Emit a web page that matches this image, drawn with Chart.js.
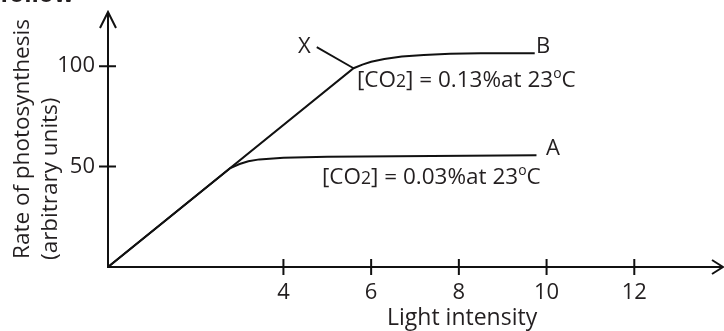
<!DOCTYPE html>
<html>
<head>
<meta charset="utf-8">
<script src="https://cdn.jsdelivr.net/npm/chart.js@4.4.1/dist/chart.umd.min.js"></script>
<style>
  html, body { margin: 0; padding: 0; background: #fff; }
  #wrap { width: 724px; height: 331px; }
</style>
</head>
<body>
<div id="wrap"><canvas id="c" width="724" height="331"></canvas></div>
<script>
// ---- data ----
const xTickValues = [4, 6, 8, 10, 12];
const yTickValues = [50, 100];

// curve B: [CO2] = 0.13% at 23 C
const lightB = [0, 5.6, 5.8, 6.0, 6.3, 6.7, 7.2, 7.8, 8.5, 9.73];
const rateB  = [0, 99, 100.8, 102.2, 103.6, 104.8, 105.6, 106.2, 106.5, 106.5];

// curve A: [CO2] = 0.03% at 23 C
const lightA = [0, 2.79, 3.0, 3.2, 3.45, 4.0, 5.0, 9.77];
const rateA  = [0, 49.3, 51.3, 52.7, 53.6, 54.4, 54.9, 55.6];

// pointer from label X to the saturation point
const lightX = [4.76, 5.6];
const rateX  = [109.5, 99];

const xTitle = 'Light intensity';
const yTitle1 = 'Rate of photosynthesis';
const yTitle2 = '(arbitrary units)';
const labelB = 'B', labelA = 'A', labelX = 'X';

const FONT = '"Open Sans", "Noto Sans", sans-serif';
const INK = '#231f20';

function pts(xs, ys) { return xs.map((x, i) => ({ x: x, y: ys[i] })); }

// draw text made of segments (for the small "2" and the raised "o")
function drawSegments(ctx, x, y, size, segs) {
  let cx = x;
  segs.forEach(s => {
    const sz = size * (s.scale || 1);
    ctx.font = sz + 'px ' + FONT;
    ctx.fillText(s.t, cx, y + (s.dy || 0) * size);
    cx += ctx.measureText(s.t).width;
  });
}
function co2Label(value) {
  return [
    { t: '[CO' },
    { t: '2', scale: 0.78 },
    { t: '] = ' + value + '%at 23' },
    { t: 'o', scale: 0.62, dy: -0.38 },
    { t: 'C' }
  ];
}

const decor = {
  id: 'decor',
  beforeDatasetsDraw(chart) {
    const ctx = chart.ctx;
    const xs = chart.scales.x, ys = chart.scales.y;
    const x0 = xs.getPixelForValue(0);
    const y0 = ys.getPixelForValue(0);
    const xEnd = xs.getPixelForValue(xs.max) + 1;
    const yEnd = ys.getPixelForValue(ys.max);
    ctx.save();
    ctx.strokeStyle = '#111';
    ctx.lineWidth = 2;
    ctx.lineCap = 'butt';
    // axes
    ctx.beginPath();
    ctx.moveTo(x0, y0); ctx.lineTo(xEnd, y0);
    ctx.moveTo(x0, y0 + 1); ctx.lineTo(x0, yEnd);
    ctx.stroke();
    // arrowheads
    ctx.beginPath();
    ctx.moveTo(xEnd - 11, y0 - 7); ctx.lineTo(xEnd, y0); ctx.lineTo(xEnd - 11, y0 + 7);
    ctx.moveTo(x0 - 8, yEnd + 16); ctx.lineTo(x0, yEnd); ctx.lineTo(x0 + 8, yEnd + 16);
    ctx.stroke();
    // tick marks crossing the axes
    ctx.beginPath();
    xTickValues.forEach(v => {
      const p = xs.getPixelForValue(v);
      ctx.moveTo(p, y0 - 8); ctx.lineTo(p, y0 + 8);
    });
    yTickValues.forEach(v => {
      const p = ys.getPixelForValue(v);
      ctx.moveTo(x0 - 9, p); ctx.lineTo(x0 + 8, p);
    });
    ctx.stroke();
    ctx.restore();
  },
  afterDraw(chart) {
    const ctx = chart.ctx;
    ctx.save();
    ctx.fillStyle = INK;
    ctx.textBaseline = 'alphabetic';
    ctx.textAlign = 'left';
    // cropped heading at the very top
    ctx.font = 'bold 24px ' + FONT;
    ctx.fillText('follow', 0, 2);
    // labels
    ctx.font = '22px ' + FONT;
    ctx.fillText(labelX, 298, 53);
    ctx.fillText(labelB, 536, 53);
    ctx.fillText(labelA, 546, 155);
    drawSegments(ctx, 357, 87, 22.5, co2Label('0.13'));
    drawSegments(ctx, 322, 184, 22.5, co2Label('0.03'));
    // x title
    ctx.font = '23px ' + FONT;
    ctx.fillText(xTitle, 387, 325);
    // y titles (rotated)
    ctx.save();
    ctx.translate(29, 259);
    ctx.rotate(-Math.PI / 2);
    ctx.font = '22.5px ' + FONT;
    ctx.fillText(yTitle1, 0, 0);
    ctx.restore();
    ctx.save();
    ctx.translate(57, 260);
    ctx.rotate(-Math.PI / 2);
    ctx.font = '22.5px ' + FONT;
    ctx.fillText(yTitle2, 0, 0);
    ctx.restore();
    ctx.restore();
  }
};

const lineStyle = {
  borderColor: '#111',
  borderWidth: 2,
  pointRadius: 0,
  tension: 0,
  fill: false,
  clip: false
};

new Chart(document.getElementById('c'), {
  type: 'scatter',
  data: {
    datasets: [
      Object.assign({ label: 'B', data: pts(lightB, rateB), showLine: true }, lineStyle),
      Object.assign({ label: 'A', data: pts(lightA, rateA), showLine: true }, lineStyle),
      Object.assign({ label: 'X', data: pts(lightX, rateX), showLine: true }, lineStyle, { borderWidth: 1.8 })
    ]
  },
  options: {
    responsive: false,
    animation: false,
    devicePixelRatio: 1,
    layout: { padding: { left: 0, right: 2, top: 12, bottom: 0 } },
    plugins: { legend: { display: false }, tooltip: { enabled: false } },
    scales: {
      x: {
        type: 'linear', min: 0, max: 14,
        afterBuildTicks: s => { s.ticks = xTickValues.map(v => ({ value: v })); },
        afterFit: s => { s.height = 64; s.paddingLeft = 0; s.paddingRight = 0; },
        grid: { display: false, drawTicks: false },
        border: { display: false },
        ticks: { color: INK, font: { family: FONT, size: 22 }, padding: 13, maxRotation: 0, autoSkip: false }
      },
      y: {
        type: 'linear', min: 0, max: 127,
        afterBuildTicks: s => { s.ticks = yTickValues.map(v => ({ value: v })); },
        afterFit: s => { s.width = 108; s.paddingTop = 0; s.paddingBottom = 0; },
        grid: { display: false, drawTicks: false },
        border: { display: false },
        ticks: { color: INK, font: { family: FONT, size: 22 }, padding: 13, autoSkip: false }
      }
    }
  },
  plugins: [decor]
});
</script>
</body>
</html>
